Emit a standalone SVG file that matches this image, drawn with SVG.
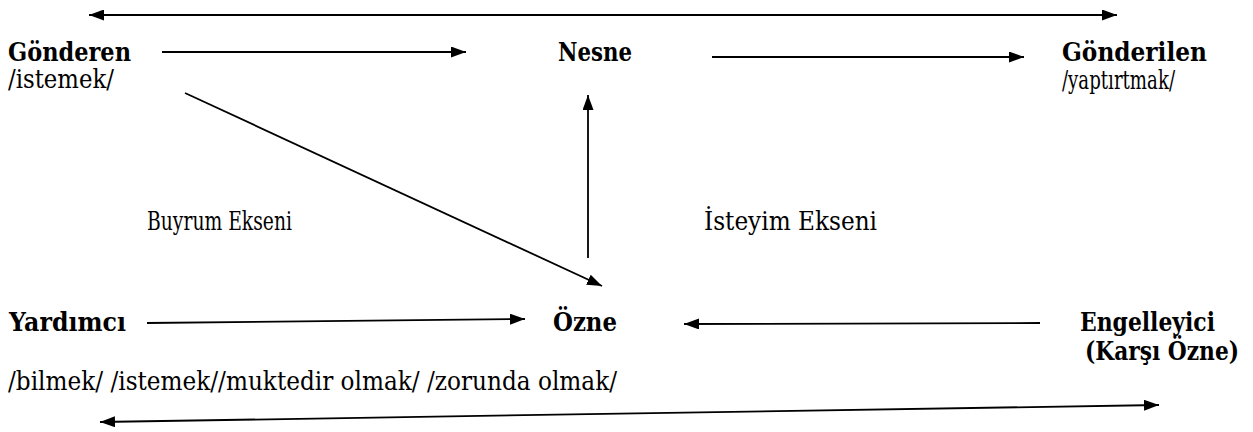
<svg xmlns="http://www.w3.org/2000/svg" width="1253" height="432" viewBox="0 0 1253 432">
  <defs>
    <style>
      text { font-family: "DejaVu Serif", "Liberation Serif", serif; font-size: 26px; fill: #000; }
      .b { font-weight: bold; }
      .link { stroke: #000; stroke-width: 1.8; fill: none; }
    </style>
    <marker id="head" viewBox="0 0 15 11" refX="15" refY="5.5" markerWidth="15" markerHeight="11" markerUnits="userSpaceOnUse" orient="auto-start-reverse">
      <path d="M0,0 L15,5.5 L0,11 z" fill="#000"/>
    </marker>
  </defs>
  <rect width="1253" height="432" fill="#fff"/>

  <g id="connectors">
    <line class="link" x1="89" y1="15" x2="1117" y2="15" marker-start="url(#head)" marker-end="url(#head)"/>
    <line class="link" x1="162" y1="52" x2="466" y2="52" marker-end="url(#head)"/>
    <line class="link" x1="712" y1="57" x2="1024" y2="57" marker-end="url(#head)"/>
    <line class="link" x1="185" y1="93" x2="602" y2="286" marker-end="url(#head)"/>
    <line class="link" x1="588" y1="258" x2="588" y2="95" marker-end="url(#head)"/>
    <line class="link" x1="147" y1="323" x2="525" y2="319" marker-end="url(#head)"/>
    <line class="link" x1="1040" y1="323" x2="684" y2="324" marker-end="url(#head)"/>
    <line class="link" x1="100" y1="422" x2="1159" y2="405" marker-start="url(#head)" marker-end="url(#head)"/>
  </g>

  <g id="gonderen">
    <text class="b" x="8" y="61" textLength="123" lengthAdjust="spacingAndGlyphs">Gönderen</text>
    <text x="8" y="88" textLength="106" lengthAdjust="spacingAndGlyphs">/istemek/</text>
  </g>
  <g id="nesne">
    <text class="b" x="558" y="61" textLength="74" lengthAdjust="spacingAndGlyphs">Nesne</text>
  </g>
  <g id="gonderilen">
    <text class="b" x="1062" y="61" textLength="145" lengthAdjust="spacingAndGlyphs">Gönderilen</text>
    <text x="1062" y="89" textLength="113" lengthAdjust="spacingAndGlyphs">/yaptırtmak/</text>
  </g>
  <g id="buyrum-ekseni">
    <text x="147" y="230" textLength="145" lengthAdjust="spacingAndGlyphs">Buyrum Ekseni</text>
  </g>
  <g id="isteyim-ekseni">
    <text x="704" y="230" textLength="173" lengthAdjust="spacingAndGlyphs">İsteyim Ekseni</text>
  </g>
  <g id="yardimci">
    <text class="b" x="9" y="331" textLength="117" lengthAdjust="spacingAndGlyphs">Yardımcı</text>
  </g>
  <g id="ozne">
    <text class="b" x="553" y="331" textLength="64" lengthAdjust="spacingAndGlyphs">Özne</text>
  </g>
  <g id="engelleyici">
    <text class="b" x="1080" y="331" textLength="135" lengthAdjust="spacingAndGlyphs">Engelleyici</text>
    <text class="b" x="1085" y="360" textLength="154" lengthAdjust="spacingAndGlyphs">(Karşı Özne)</text>
  </g>
  <g id="kipler">
    <text x="8" y="390" textLength="609" lengthAdjust="spacingAndGlyphs">/bilmek/ /istemek//muktedir olmak/ /zorunda olmak/</text>
  </g>
</svg>
